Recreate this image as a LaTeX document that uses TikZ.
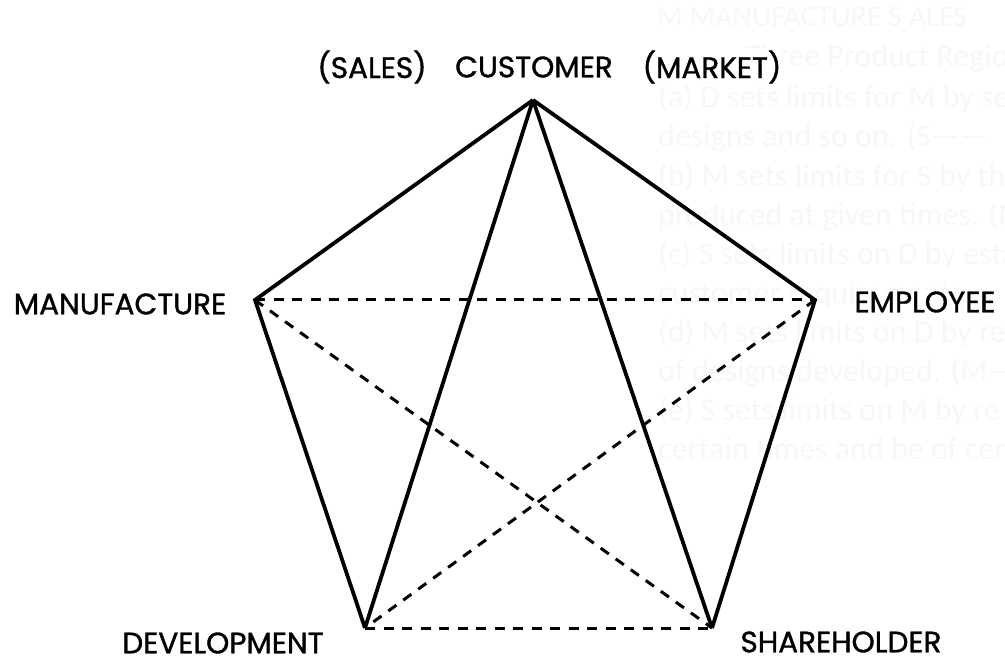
\documentclass[tikz,border=0pt]{standalone}
\usepackage{fontspec}
\newfontfamily\labfont{Poppins}[FakeBold=1.2]
\newfontfamily\notefont{Carlito}
\begin{document}
\begin{tikzpicture}[x=1pt,y=-1pt,
  solidedge/.style={line width=3.8pt,line join=miter,line cap=butt},
  dashedge/.style={line width=3pt,dash pattern=on 10pt off 8.5pt},
  vlabel/.style={font=\labfont\fontsize{29.5}{30}\selectfont,inner sep=1pt,fill=white},
  note/.style={font=\notefont\fontsize{32}{32}\selectfont,text=black!3,anchor=base west,inner sep=0pt}]
\useasboundingbox (0,0) rectangle (1005,660);
\clip (0,0) rectangle (1005,660);

% faint notes in the background
\node[note,font=\notefont\fontsize{30}{30}\selectfont] (n1) at (657,27) {M MANUFACTURE S ALES};
\node[note] (n2)  at (745,67)  {Three Product Regions};
\node[note] (n3)  at (658,108) {(a) D sets limits for M by setting};
\node[note] (n4)  at (658,147) {designs and so on. (S\textemdash\textemdash};
\node[note] (n5)  at (658,187) {(b) M sets limits for S by the};
\node[note] (n6)  at (658,226) {produced at given times. (M};
\node[note] (n7)  at (658,265) {(c) S sets limits on D by establishing};
\node[note] (n8)  at (658,304) {customer requirements};
\node[note] (n9)  at (658,343) {(d) M sets limits on D by re};
\node[note] (n10) at (658,382) {of designs developed. (M\textemdash};
\node[note] (n11) at (658,421) {(e) S sets limits on M by re};
\node[note] (n12) at (658,460) {certain times and be of cer};

% vertices of the pentagon
\coordinate (C) at (533,100);
\coordinate (M) at (255,300);
\coordinate (E) at (815,300);
\coordinate (D) at (365,628);
\coordinate (S) at (712,628);

% dashed links
\draw[dashedge] (M) -- (E);
\draw[dashedge] (M) -- (S);
\draw[dashedge] (E) -- (D);
\draw[dashedge] (D) -- (S);

% solid links
\draw[solidedge] (D) -- (M) -- (C);
\draw[solidedge] (S) -- (E) -- (C);
\draw[solidedge] (C) -- (D);
\draw[solidedge] (C) -- (S);

% labels
\node[vlabel] (lsales) at (372,67)  {(SALES)};
\node[vlabel] (lcust)  at (534,67)  {CUSTOMER};
\node[vlabel] (lmkt)   at (712,67)  {(MARKET)};
\node[vlabel] (lman)   at (120,304) {MANUFACTURE};
\node[vlabel] (lemp)   at (925,302) {EMPLOYEE};
\node[vlabel] (ldev)   at (223,643) {DEVELOPMENT};
\node[vlabel] (lsha)   at (841,642) {SHAREHOLDER};
\end{tikzpicture}
\end{document}
